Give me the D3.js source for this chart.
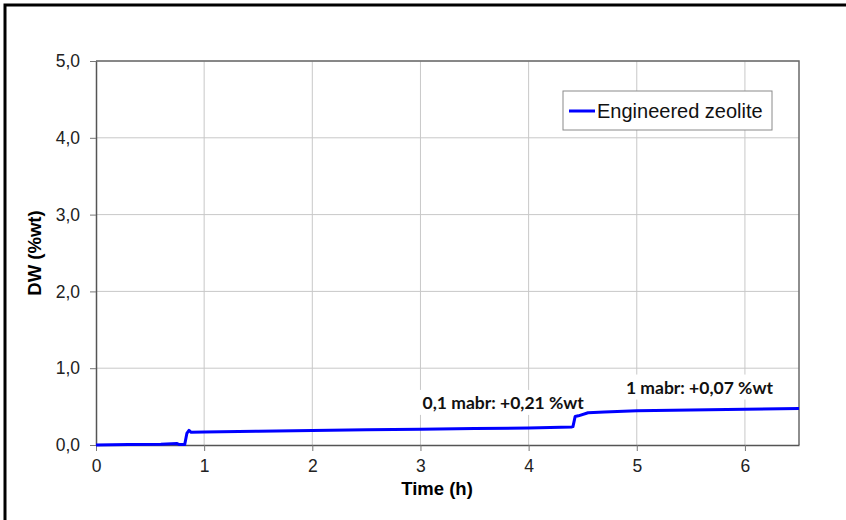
<!DOCTYPE html>
<html>
<head>
<meta charset="utf-8">
<script src="https://d3js.org/d3.v7.min.js"></script>
<style>
  body { margin: 0; background: #fff; }
  svg { display: block; }
  .tick text { font-family: "Liberation Sans", Arial, sans-serif; font-size: 17.5px; fill: #222; }
  .ann { font-family: Lato, "Open Sans", sans-serif; font-weight: bold; font-size: 17.5px; fill: #111; }
</style>
</head>
<body>
<script>
// time (h) and weight change DW (%wt)
var times = [0, 0.3, 0.6, 0.75, 0.77, 0.82, 0.84, 0.86, 0.88, 1.0, 1.5, 2.0, 2.5, 3.0, 3.5, 4.0, 4.4, 4.41, 4.43, 4.46, 4.55, 4.7, 5.0, 5.5, 6.0, 6.5];
var dw    = [0, 0.005, 0.01, 0.02, 0.005, 0.005, 0.15, 0.19, 0.165, 0.17, 0.18, 0.19, 0.2, 0.205, 0.215, 0.22, 0.235, 0.24, 0.37, 0.38, 0.42, 0.43, 0.445, 0.455, 0.465, 0.475];
var xTicks = [0, 1, 2, 3, 4, 5, 6];
var yTicks = [0, 1, 2, 3, 4, 5];
var seriesName = "Engineered zeolite";
var annTexts = ["0,1 mabr: +0,21 %wt", "1 mabr: +0,07 %wt"];
var annX = [3.02, 4.9];
var annY = [0.47, 0.67];

var W = 846, H = 520;
var margin = {top: 61, right: 47, bottom: 75, left: 96};
var width = W - margin.left - margin.right,
    height = H - margin.top - margin.bottom;

var svg = d3.select("body").append("svg")
  .attr("width", W).attr("height", H);

// outer frame (runs off the right and bottom)
svg.append("rect")
  .attr("x", 5).attr("y", 5).attr("width", 1000).attr("height", 1000)
  .attr("fill", "none").attr("stroke", "#000").attr("stroke-width", 3);

var g = svg.append("g")
  .attr("transform", "translate(" + margin.left + "," + margin.top + ")");

var x = d3.scaleLinear().domain([0, 6.5]).range([0, width]);
var y = d3.scaleLinear().domain([0, 5]).range([height, 0]);

var comma = d3.formatLocale({decimal: ",", thousands: ".", grouping: [3], currency: ["", ""]}).format(".1f");

// grid
g.append("g").selectAll("line").data(xTicks.slice(1)).enter().append("line")
  .attr("x1", d => x(d)).attr("x2", d => x(d)).attr("y1", 0).attr("y2", height)
  .attr("stroke", "#c8c8c8").attr("stroke-width", 1);
g.append("g").selectAll("line").data(yTicks.slice(1)).enter().append("line")
  .attr("x1", 0).attr("x2", width).attr("y1", d => y(d)).attr("y2", d => y(d))
  .attr("stroke", "#c8c8c8").attr("stroke-width", 1);

// plot frame top/right
g.append("path")
  .attr("d", "M0,0H" + width + "V" + height)
  .attr("fill", "none").attr("stroke", "#6a6a6a").attr("stroke-width", 1.5);

var xAxis = g.append("g")
  .attr("transform", "translate(0," + height + ")")
  .call(d3.axisBottom(x).tickValues(xTicks).tickSize(6).tickSizeOuter(0).tickPadding(9).tickFormat(d3.format("d")));
var yAxis = g.append("g")
  .call(d3.axisLeft(y).tickValues(yTicks).tickSize(6).tickSizeOuter(0).tickPadding(10).tickFormat(comma));
[xAxis, yAxis].forEach(function(a) {
  a.select(".domain").attr("stroke", "#555").attr("stroke-width", 1.5);
  a.selectAll(".tick line").attr("stroke", "#777");
});

// annotations with white backing
var ann = g.append("g").selectAll("g").data(annTexts).enter().append("g");
ann.append("text").attr("class", "ann")
  .attr("x", (d, i) => x(annX[i])).attr("y", (d, i) => y(annY[i]))
  .text(d => d);
ann.each(function() {
  var t = d3.select(this).select("text"), b = t.node().getBBox();
  d3.select(this).insert("rect", "text")
    .attr("x", b.x - 4).attr("y", b.y - 2).attr("width", b.width + 8).attr("height", b.height + 4)
    .attr("fill", "#fff");
});

// series line
g.append("path")
  .datum(times.map((t, i) => [t, dw[i]]))
  .attr("fill", "none").attr("stroke", "#0000ff").attr("stroke-width", 3)
  .attr("stroke-linejoin", "round")
  .attr("d", d3.line().x(d => x(d[0])).y(d => y(d[1])));

// legend
var leg = g.append("g").attr("transform", "translate(" + (563 - margin.left) + "," + (91 - margin.top) + ")");
leg.append("rect").attr("width", 209).attr("height", 39)
  .attr("fill", "#fff").attr("stroke", "#8a8a8a").attr("stroke-width", 1);
leg.append("line").attr("x1", 6).attr("x2", 32).attr("y1", 20).attr("y2", 20)
  .attr("stroke", "#0000ff").attr("stroke-width", 3);
leg.append("text").attr("x", 34).attr("y", 27)
  .style("font-family", "'Liberation Sans', Arial, sans-serif").style("font-size", "20px").style("fill", "#111")
  .text(seriesName);

// axis titles
svg.append("text")
  .attr("x", 437).attr("y", 495).attr("text-anchor", "middle")
  .style("font-family", "'Liberation Sans', Arial, sans-serif").style("font-size", "18.5px").style("font-weight", "bold")
  .text("Time (h)");
svg.append("text")
  .attr("transform", "translate(41," + (margin.top + height / 2) + ") rotate(-90)")
  .attr("text-anchor", "middle")
  .style("font-family", "'Liberation Sans', Arial, sans-serif").style("font-size", "18.5px").style("font-weight", "bold")
  .text("DW (%wt)");
</script>
</body>
</html>
